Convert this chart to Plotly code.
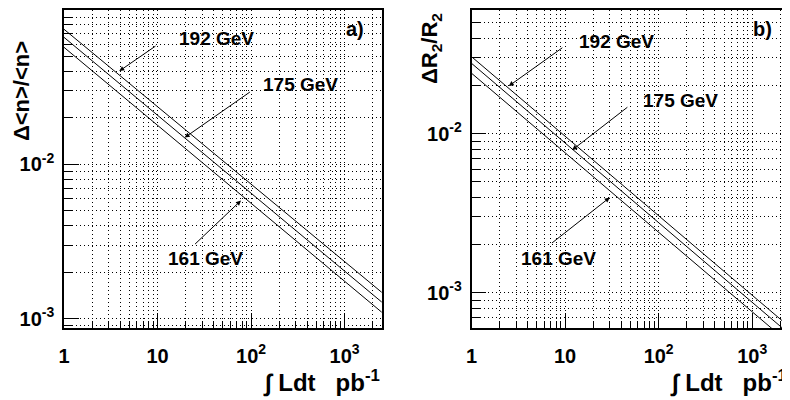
import numpy as np
import plotly.graph_objects as go
from plotly.subplots import make_subplots

# integrated luminosity (pb^-1), end points of the straight log-log lines
lumi = [1, 2500]

# a) relative error on <n>
dn_192 = [0.075, 0.00148]
dn_175 = [0.0665, 0.00128]
dn_161 = [0.0573, 0.0011]

# b) relative error on R2
dr_192 = [0.0305, 0.00061]
dr_175 = [0.0277, 0.00055]
dr_161 = [0.0240, 0.00048]

energies = ["192 GeV", "175 GeV", "161 GeV"]
# where the arrows point (lumi, error)
arrow_a = [(3.9, 0.0402), (19.5, 0.0149), (78, 0.00583)]
arrow_b = [(2.5, 0.01995), (11.9, 0.00789), (30, 0.00397)]

x_major = [1, 10, 100, 1000]
x_major_txt = ["1", "10", "10<sup>2</sup>", "10<sup>3</sup>"]
y_major = [0.001, 0.01]
y_major_txt = ["10<sup>-3</sup>", "10<sup>-2</sup>"]

# the page body has an 8px margin, so the figure is 8px smaller than the window
W, H = 782, 392
ML, MR, MT, MB = 56, 0, 2, 72
PW, PH = W - ML - MR, H - MT - MB


def px(x):
    # window pixel -> paper
    return (x - 8 - ML) / PW


def py(y):
    return (H - MB - (y - 8)) / PH


minors = [m * 10.0 ** e for e in range(-4, 4) for m in range(2, 10)]
FONT = "Liberation Sans"
DOTS = "1px,3px"

fig = make_subplots(rows=1, cols=2)
for col, series in ((1, (dn_192, dn_175, dn_161)), (2, (dr_192, dr_175, dr_161))):
    for name, ys in zip(energies, series):
        fig.add_trace(go.Scatter(x=lumi, y=ys, mode="lines", name=name,
                                 line=dict(color="black", width=1),
                                 showlegend=False), 1, col)

axis_common = dict(type="log", showline=True, mirror=True, linecolor="black", linewidth=1.5,
                   ticks="inside", tickcolor="black", showgrid=True, gridcolor="black",
                   griddash=DOTS, gridwidth=1, zeroline=False,
                   tickfont=dict(family=FONT, size=20, color="black", weight="bold"))

fig.update_xaxes(**axis_common, tickmode="array", tickvals=x_major, ticktext=x_major_txt,
                 ticklen=15, ticklabelstandoff=9,
                 minor=dict(tickmode="array", tickvals=minors, ticks="inside", ticklen=7,
                            tickcolor="black", showgrid=True, gridcolor="black",
                            griddash=DOTS, gridwidth=1))
fig.update_yaxes(**axis_common, tickmode="array", tickvals=y_major, ticktext=y_major_txt,
                 ticklen=15, ticklabelstandoff=4,
                 minor=dict(tickmode="array", tickvals=minors, ticks="inside", ticklen=9,
                            tickcolor="black", showgrid=True, gridcolor="black",
                            griddash=DOTS, gridwidth=1))

fig.update_layout(
    xaxis=dict(domain=[0, px(382.7)], range=[0, np.log10(2500)]),
    xaxis2=dict(domain=[px(472.7), 1], range=[0, np.log10(2500) * (790 - 472.7) / 318.7]),
    yaxis=dict(domain=[0, 1], range=[np.log10(0.00087), -1]),
    yaxis2=dict(domain=[0, 1], range=[np.log10(0.0006), np.log10(0.06)]),
    width=W, height=H, margin=dict(l=ML, r=MR, t=MT, b=MB),
    plot_bgcolor="white", paper_bgcolor="white", showlegend=False,
)

ann = []
lab_font = dict(family=FONT, size=19, color="black", weight="bold")
# GeV labels (window pixel centres) and arrow tails relative to the heads
labels_a = [(217, 38.5), (301, 85), (206, 258)]
offs_a = [(37.7, -26), (66.7, -46.6), (-47.4, 45)]
labels_b = [(618, 41.7), (682, 100), (560, 259)]
offs_b = [(55, -39.3), (56.7, -44), (-59.3, 46.7)]


def note(x, y, text, font, **kw):
    d = dict(xref="paper", yref="paper", x=px(x), y=py(y), text=text, showarrow=False,
             font=font, xanchor="center", yanchor="middle")
    d.update(kw)
    return d


for xr, yr, labels, offs, heads in (("x", "y", labels_a, offs_a, arrow_a),
                                    ("x2", "y2", labels_b, offs_b, arrow_b)):
    for txt, (lx, ly), (ox, oy), (hx, hy) in zip(energies, labels, offs, heads):
        ann.append(note(lx, ly, txt, lab_font))
        ann.append(dict(xref=xr, yref=yr, x=np.log10(hx), y=np.log10(hy), text="",
                        showarrow=True, ax=ox, ay=oy, arrowhead=2, arrowsize=1,
                        arrowwidth=1, arrowcolor="black"))

big = dict(family=FONT, size=22, color="black", weight="bold")
small = dict(family=FONT, size=20, color="black", weight="bold")
xfont = dict(family=FONT, size=24, color="black", weight="bold")
xtitle = "∫ Ldt&nbsp;&nbsp;&nbsp;pb<sup>-1</sup>"
ann += [
    note(356, 29, "a)", small),
    note(764, 28.5, "b)", small),
    note(21, 91, "Δ&lt;n&gt;/&lt;n&gt;", big, textangle=-90),
    note(432, 48, "ΔR<sub>2</sub>/R<sub>2</sub>", big, textangle=-90),
    note(383, 381, xtitle, xfont, xanchor="right"),
    note(791, 381, xtitle, xfont, xanchor="right"),
]
fig.update_layout(annotations=ann)

fig.write_html("out.html")
